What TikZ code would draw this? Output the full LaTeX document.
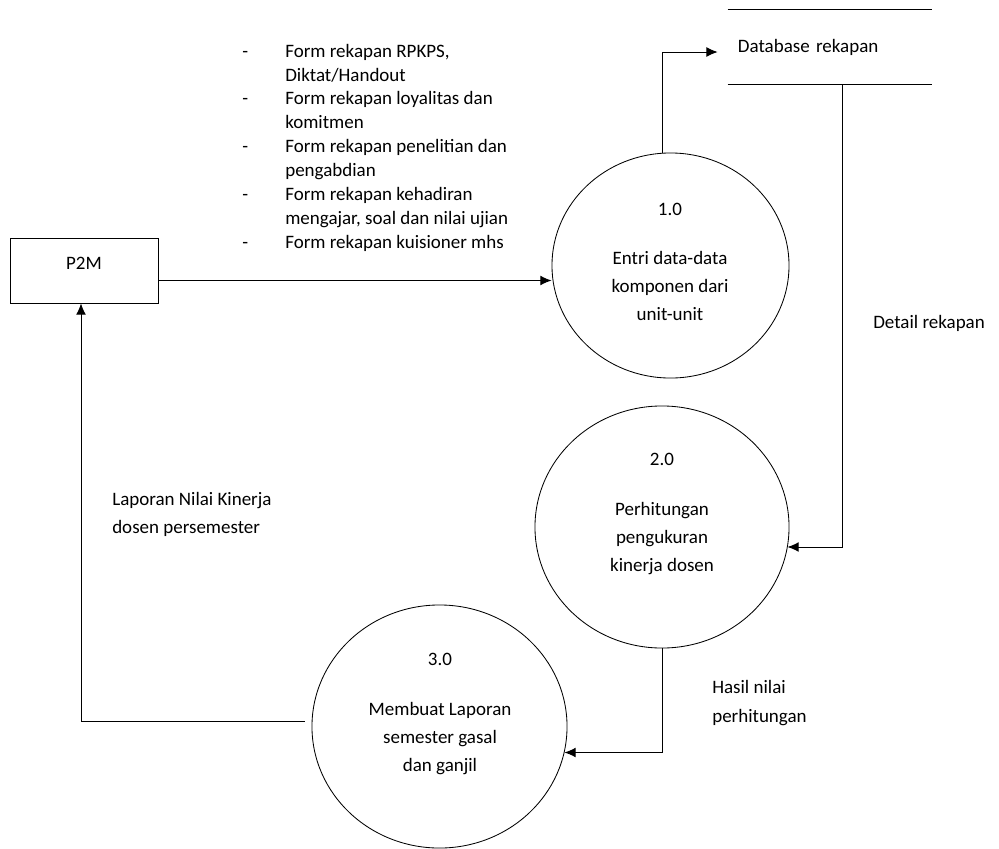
\documentclass[tikz,border=0pt]{standalone}
\usepackage{fontspec}
\setmainfont{Carlito}
\usetikzlibrary{shapes.geometric,arrows.meta,calc}

\begin{document}
\begin{tikzpicture}[
  x=0.025cm, y=-0.025cm,
  font=\fontsize{13.5}{17}\selectfont,
  every node/.style={inner sep=0pt},
  proc/.style={ellipse, draw, line width=0.6pt},
  ent/.style={rectangle, draw, line width=0.6pt, minimum width=3.7cm, minimum height=1.625cm},
  store/.style={rectangle, inner xsep=0.25cm, text width=4.6cm, align=left, minimum height=1.85cm},
  ptext/.style={align=center, font=\fontsize{13.5}{20}\selectfont},
  lbl/.style={align=left, anchor=west},
  flow/.style={line width=0.7pt, -{Latex[length=8pt,width=7pt]}}
]
\useasboundingbox (0,0) rectangle (999,848);

% external entity and data store
\node[ent] (p2m) at (84,270.5) {};
\node (p2mtxt) at (84,263) {P2M};
\node[store] (db) at (830,47) {Database rekapan};
\draw[line width=0.6pt] (db.north west) -- (db.north east);
\draw[line width=0.6pt] (db.south west) -- (db.south east);

% processes
\node[proc, minimum width=5.925cm, minimum height=5.625cm] (c1) at (670.5,265.5) {};
\node[ptext] (t1) at (670,262) {1.0\\[15pt]Entri data-data\\komponen dari\\unit-unit};
\node[proc, minimum width=6.35cm, minimum height=6.05cm] (c2) at (662,527) {};
\node[ptext] (t2) at (662,514) {2.0\\[15pt]Perhitungan\\pengukuran\\kinerja dosen};
\node[proc, minimum width=6.375cm, minimum height=6.075cm] (c3) at (439.5,726.5) {};
\node[ptext] (t3) at (440,714) {3.0\\[15pt]Membuat Laporan\\semester gasal\\dan ganjil};

% data flow labels
\node[lbl] (forms) at (242,148) {\begin{tabular}{@{}p{30.6pt}@{}l@{}}
  - & Form rekapan RPKPS,\\
    & Diktat/Handout\\
  - & Form rekapan loyalitas dan\\
    & komitmen\\
  - & Form rekapan penelitian dan\\
    & pengabdian\\
  - & Form rekapan kehadiran\\
    & mengajar, soal dan nilai ujian\\
  - & Form rekapan kuisioner mhs
\end{tabular}};
\node[lbl] (detail) at (873,323) {Detail rekapan};
\node[lbl, font=\fontsize{13.5}{21}\selectfont] (hasil) at (712,703) {Hasil nilai\\perhitungan};
\node[lbl, font=\fontsize{13.5}{20}\selectfont] (lap) at (112,514) {Laporan Nilai Kinerja\\dosen persemester};

% flows
\draw[flow] ($(p2m.east)+(0,10)$) -- ($(c1.west)+(0,15)$);
\draw[flow] ($(c1.north)+(-8,0)$) |- ($(db.west)+(-10,5)$);
\draw[flow] ($(db.south)+(12,0)$) |- ($(c2.east)+(-2,20)$);
\draw[flow] (c2.south) |- ($(c3.east)+(-3,26)$);
\draw[flow] ($(c3.west)+(-7,-5)$) -| ($(p2m.south)+(-3,0)$);
\end{tikzpicture}
\end{document}
